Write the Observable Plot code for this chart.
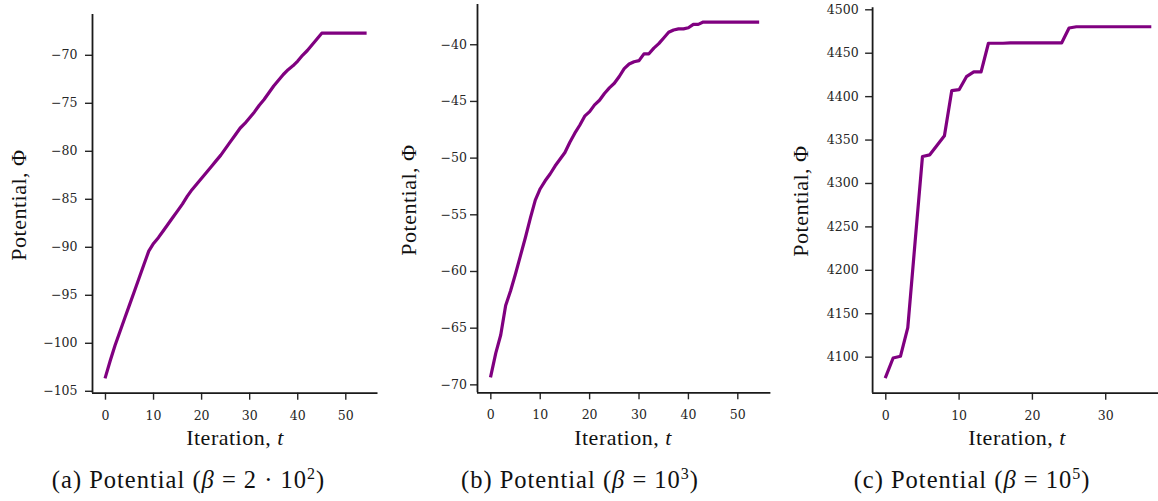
<!DOCTYPE html>
<html>
<head>
<meta charset="utf-8">
<script src="https://cdn.jsdelivr.net/npm/d3@7"></script>
<script src="https://cdn.jsdelivr.net/npm/@observablehq/plot@0.6"></script>
<style>
  html, body { margin: 0; padding: 0; background: #fff; overflow: hidden; }
  #page { position: relative; width: 1158px; height: 501px; overflow: hidden; background: #fff; }
  .panel { position: absolute; top: 0; width: 400px; }
  .panel svg { max-width: none !important; }
  #labels { position: absolute; left: 0; top: 0; pointer-events: none; }
  #labels text { font-family: "Liberation Serif", serif; fill: #111; }
</style>
</head>
<body>
<div id="page">
  <div class="panel" id="pa" style="left:0px"></div>
  <div class="panel" id="pb" style="left:390px"></div>
  <div class="panel" id="pc" style="left:780px"></div>
  <svg id="labels" width="1158" height="501">
    <text x="26" y="205" text-anchor="middle" font-size="22" letter-spacing="0.5" transform="rotate(-90 26 205)">Potential, Φ</text>
    <text x="416" y="200" text-anchor="middle" font-size="22" letter-spacing="0.5" transform="rotate(-90 416 200)">Potential, Φ</text>
    <text x="808" y="201" text-anchor="middle" font-size="22" letter-spacing="0.5" transform="rotate(-90 808 201)">Potential, Φ</text>
    <text x="235" y="445" text-anchor="middle" font-size="22" letter-spacing="0.5">Iteration, <tspan font-style="italic">t</tspan></text>
    <text x="623" y="445" text-anchor="middle" font-size="22" letter-spacing="0.5">Iteration, <tspan font-style="italic">t</tspan></text>
    <text x="1017" y="445" text-anchor="middle" font-size="22" letter-spacing="0.5">Iteration, <tspan font-style="italic">t</tspan></text>
    <text x="188.5" y="488" text-anchor="middle" font-size="24.5" letter-spacing="1">(a) Potential (<tspan font-style="italic">β</tspan> = 2 · 10<tspan dy="-9" font-size="16">2</tspan><tspan dy="9">)</tspan></text>
    <text x="580" y="488" text-anchor="middle" font-size="24.5" letter-spacing="1">(b) Potential (<tspan font-style="italic">β</tspan> = 10<tspan dy="-9" font-size="16">3</tspan><tspan dy="9">)</tspan></text>
    <text x="972" y="488" text-anchor="middle" font-size="24.5" letter-spacing="1">(c) Potential (<tspan font-style="italic">β</tspan> = 10<tspan dy="-9" font-size="16">5</tspan><tspan dy="9">)</tspan></text>
  </svg>
</div>
<script>
// Potential Φ per iteration t
const potentialA = [
  -103.5, -101.8, -100.2, -98.8, -97.4, -96.0, -94.6, -93.2, -91.8, -90.4,
  -89.6, -89.0, -88.3, -87.6, -86.9, -86.2, -85.5, -84.7, -84.0, -83.4,
  -82.8, -82.2, -81.6, -81.0, -80.4, -79.7, -79.0, -78.3, -77.6, -77.1,
  -76.5, -75.9, -75.2, -74.6, -73.9, -73.2, -72.6, -72.0, -71.5, -71.1,
  -70.6, -70.0, -69.5, -68.9, -68.3, -67.7, -67.7, -67.7, -67.7, -67.7,
  -67.7, -67.7, -67.7, -67.7, -67.7
];
const potentialB = [
  -69.2, -67.2, -65.6, -63.0, -61.7, -60.2, -58.6, -57.0, -55.3, -53.7,
  -52.7, -52.0, -51.4, -50.7, -50.1, -49.5, -48.6, -47.8, -47.1, -46.3,
  -45.9, -45.3, -44.9, -44.3, -43.8, -43.4, -42.8, -42.1, -41.7, -41.5,
  -41.4, -40.8, -40.8, -40.3, -39.9, -39.4, -38.9, -38.7, -38.6, -38.6,
  -38.5, -38.2, -38.2, -38.0, -38.0, -38.0, -38.0, -38.0, -38.0, -38.0,
  -38.0, -38.0, -38.0, -38.0, -38.0
];
const potentialC = [
  4077.5, 4099, 4101, 4134, 4233, 4331, 4333, 4344, 4355, 4407,
  4408, 4423, 4428.5, 4428.5, 4461.5, 4461.5, 4461.5, 4462, 4462, 4462,
  4462, 4462, 4462, 4462, 4462, 4479, 4480.5, 4480.5, 4480.5, 4480.5,
  4480.5, 4480.5, 4480.5, 4480.5, 4480.5, 4480.5, 4480.5
];
const xTicksAB = [0, 10, 20, 30, 40, 50];
const xTicksC = [0, 10, 20, 30];
const yTicksA = [-105, -100, -95, -90, -85, -80, -75, -70];
const yTicksB = [-70, -65, -60, -55, -50, -45, -40];
const yTicksC = [4100, 4150, 4200, 4250, 4300, 4350, 4400, 4450, 4500];

const fmt = d => String(d).replace("-", "\u2212");

function panel(el, values, o) {
  const data = values.map((v, i) => ({t: i, phi: v}));
  const chart = Plot.plot({
    width: o.width, height: 425,
    marginLeft: o.mL, marginRight: o.mR, marginTop: o.mT, marginBottom: 425 - o.bottom,
    style: {fontFamily: "'DejaVu Serif', serif", fontSize: "12.5px", color: "#262626", background: "transparent", overflow: "visible", maxWidth: "none"},
    x: {domain: o.xDomain, axis: null},
    y: {domain: o.yDomain, axis: null},
    marks: [
      Plot.axisX({ticks: o.xTicks, tickSize: 7, tickPadding: 10.5, strokeWidth: 1.4, tickFormat: fmt, label: null}),
      Plot.axisY({ticks: o.yTicks, tickSize: 7, tickPadding: o.yPad, strokeWidth: 1.4, tickFormat: fmt, label: null}),
      Plot.ruleX([o.xDomain[0]], {stroke: "#1a1a1a", strokeWidth: 1.8}),
      Plot.ruleY([o.yDomain[0]], {stroke: "#1a1a1a", strokeWidth: 1.8}),
      Plot.line(data, {x: "t", y: "phi", stroke: "#800080", strokeWidth: 3.2, strokeLinecap: "square", strokeLinejoin: "round"})
    ]
  });
  document.getElementById(el).appendChild(chart);
}

panel("pa", potentialA, {width: 385, mL: 92, mR: 7.5, mT: 14, bottom: 392.7,
  xDomain: [-2.7, 56.7], yDomain: [-105.2, -65.75], xTicks: xTicksAB, yTicks: yTicksA, yPad: 8});
panel("pb", potentialB, {width: 390, mL: 87, mR: 9.6, mT: 4, bottom: 392.3,
  xDomain: [-2.7, 56.7], yDomain: [-70.7, -36.45], xTicks: xTicksAB, yTicks: yTicksB, yPad: 3.5});
panel("pc", potentialC, {width: 390, mL: 92.1, mR: 7.6, mT: 7.3, bottom: 392.7,
  xDomain: [-1.8, 37.8], yDomain: [4058.5, 4502.3], xTicks: xTicksC, yTicks: yTicksC, yPad: 7});
</script>
</body>
</html>
